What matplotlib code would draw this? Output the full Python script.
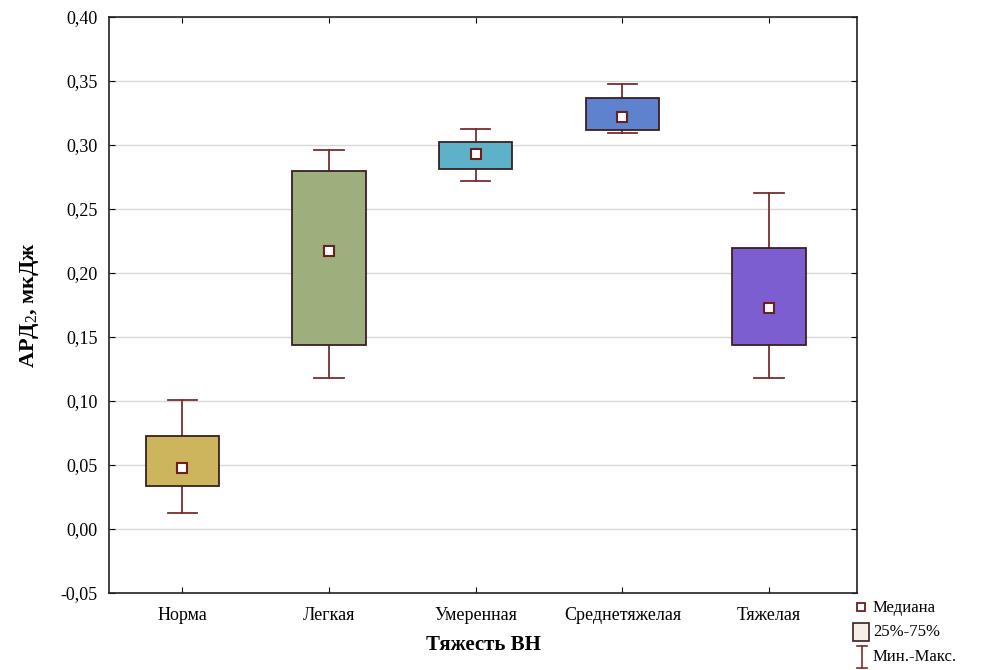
import matplotlib
matplotlib.use("Agg")
import matplotlib.pyplot as plt
from matplotlib.patches import Rectangle
from matplotlib.lines import Line2D

# severity groups and box statistics
groups = ["Норма", "Легкая", "Умеренная", "Среднетяжелая", "Тяжелая"]
mins = [0.0125, 0.118, 0.272, 0.309, 0.118]
q1 = [0.0336, 0.144, 0.281, 0.312, 0.144]
medians = [0.0477, 0.217, 0.293, 0.322, 0.173]
q3 = [0.0727, 0.280, 0.302, 0.337, 0.2195]
maxs = [0.101, 0.296, 0.3125, 0.348, 0.2625]
colors = ["#CDB55E", "#9CAF7C", "#5DB2C9", "#5F82CF", "#7C5ED0"]

plt.rcParams['font.family'] = ['Liberation Serif', 'DejaVu Serif']
plt.rcParams['mathtext.fontset'] = 'custom'
plt.rcParams['mathtext.rm'] = 'Liberation Serif'

fig = plt.figure(figsize=(9.83, 6.70), dpi=100)
ax = fig.add_axes([0.1109, 0.1149, 0.7609, 0.8597])

edge = "#3b1f1f"
whisk = "#7a2e2e"
bw = 0.5
cap = 0.2
for i, g in enumerate(groups):
    ax.plot([i, i], [mins[i], q1[i]], color=whisk, lw=1.3, zorder=2)
    ax.plot([i, i], [q3[i], maxs[i]], color=whisk, lw=1.3, zorder=2)
    ax.plot([i - cap / 2, i + cap / 2], [mins[i], mins[i]], color=whisk, lw=1.3, zorder=2)
    ax.plot([i - cap / 2, i + cap / 2], [maxs[i], maxs[i]], color=whisk, lw=1.3, zorder=2)
    ax.add_patch(Rectangle((i - bw / 2, q1[i]), bw, q3[i] - q1[i],
                           facecolor=colors[i], edgecolor=edge, lw=1.3, zorder=3))
    ax.plot(i, medians[i], marker="s", ms=7, mfc="white", mec="#6b1f1f", mew=1.5, zorder=4)

ax.set_xlim(-0.5, 4.6)
ax.set_ylim(-0.05, 0.40)
ax.set_xticks(range(len(groups)))
ax.set_xticklabels(groups, fontsize=13)
yt = [-0.05 + 0.05 * k for k in range(10)]
ax.set_yticks(yt)
ax.set_yticklabels([("%.2f" % v).replace(".", ",").replace("-0,00", "0,00") for v in yt], fontsize=13)
ax.yaxis.grid(True, color="#d8d8d8", lw=1)
ax.set_axisbelow(True)
ax.tick_params(axis="x", length=4, top=True, direction="in", pad=10)
ax.tick_params(axis="y", length=4, right=True, direction="in", pad=8)
for s in ax.spines.values():
    s.set_color("#222222")
    s.set_linewidth(1.2)

ax.set_xlabel("Тяжесть ВН", fontsize=15, fontweight="bold", labelpad=8)
ax.set_ylabel(r"АРД$_{\mathrm{2}}$, мкДж", fontsize=16, fontweight="bold", labelpad=14)

# legend drawn in figure coordinates, outside the plot area
W, H = 983, 670
def fx(p):
    return p / W
def fy(p):
    return 1 - p / H

fig.add_artist(Line2D([fx(861)], [fy(607)], marker="s", ms=6, mfc="white", mec="#6b1f1f", mew=1.3))
fig.text(fx(873), fy(608), "Медиана", fontsize=12, va="center")
fig.add_artist(Rectangle((fx(853), fy(641)), 16 / W, 18 / H, facecolor="#f7eee8", edgecolor=edge, lw=1.2,
                         transform=fig.transFigure))
fig.text(fx(873), fy(632), "25%-75%", fontsize=12, va="center")
fig.add_artist(Line2D([fx(862), fx(862)], [fy(646), fy(668)], color=whisk, lw=1.2))
fig.add_artist(Line2D([fx(857), fx(867)], [fy(646), fy(646)], color=whisk, lw=1.2))
fig.add_artist(Line2D([fx(857), fx(867)], [fy(668), fy(668)], color=whisk, lw=1.2))
fig.text(fx(873), fy(657), "Мин.-Макс.", fontsize=12, va="center")

fig.savefig("out.png", dpi=100)
